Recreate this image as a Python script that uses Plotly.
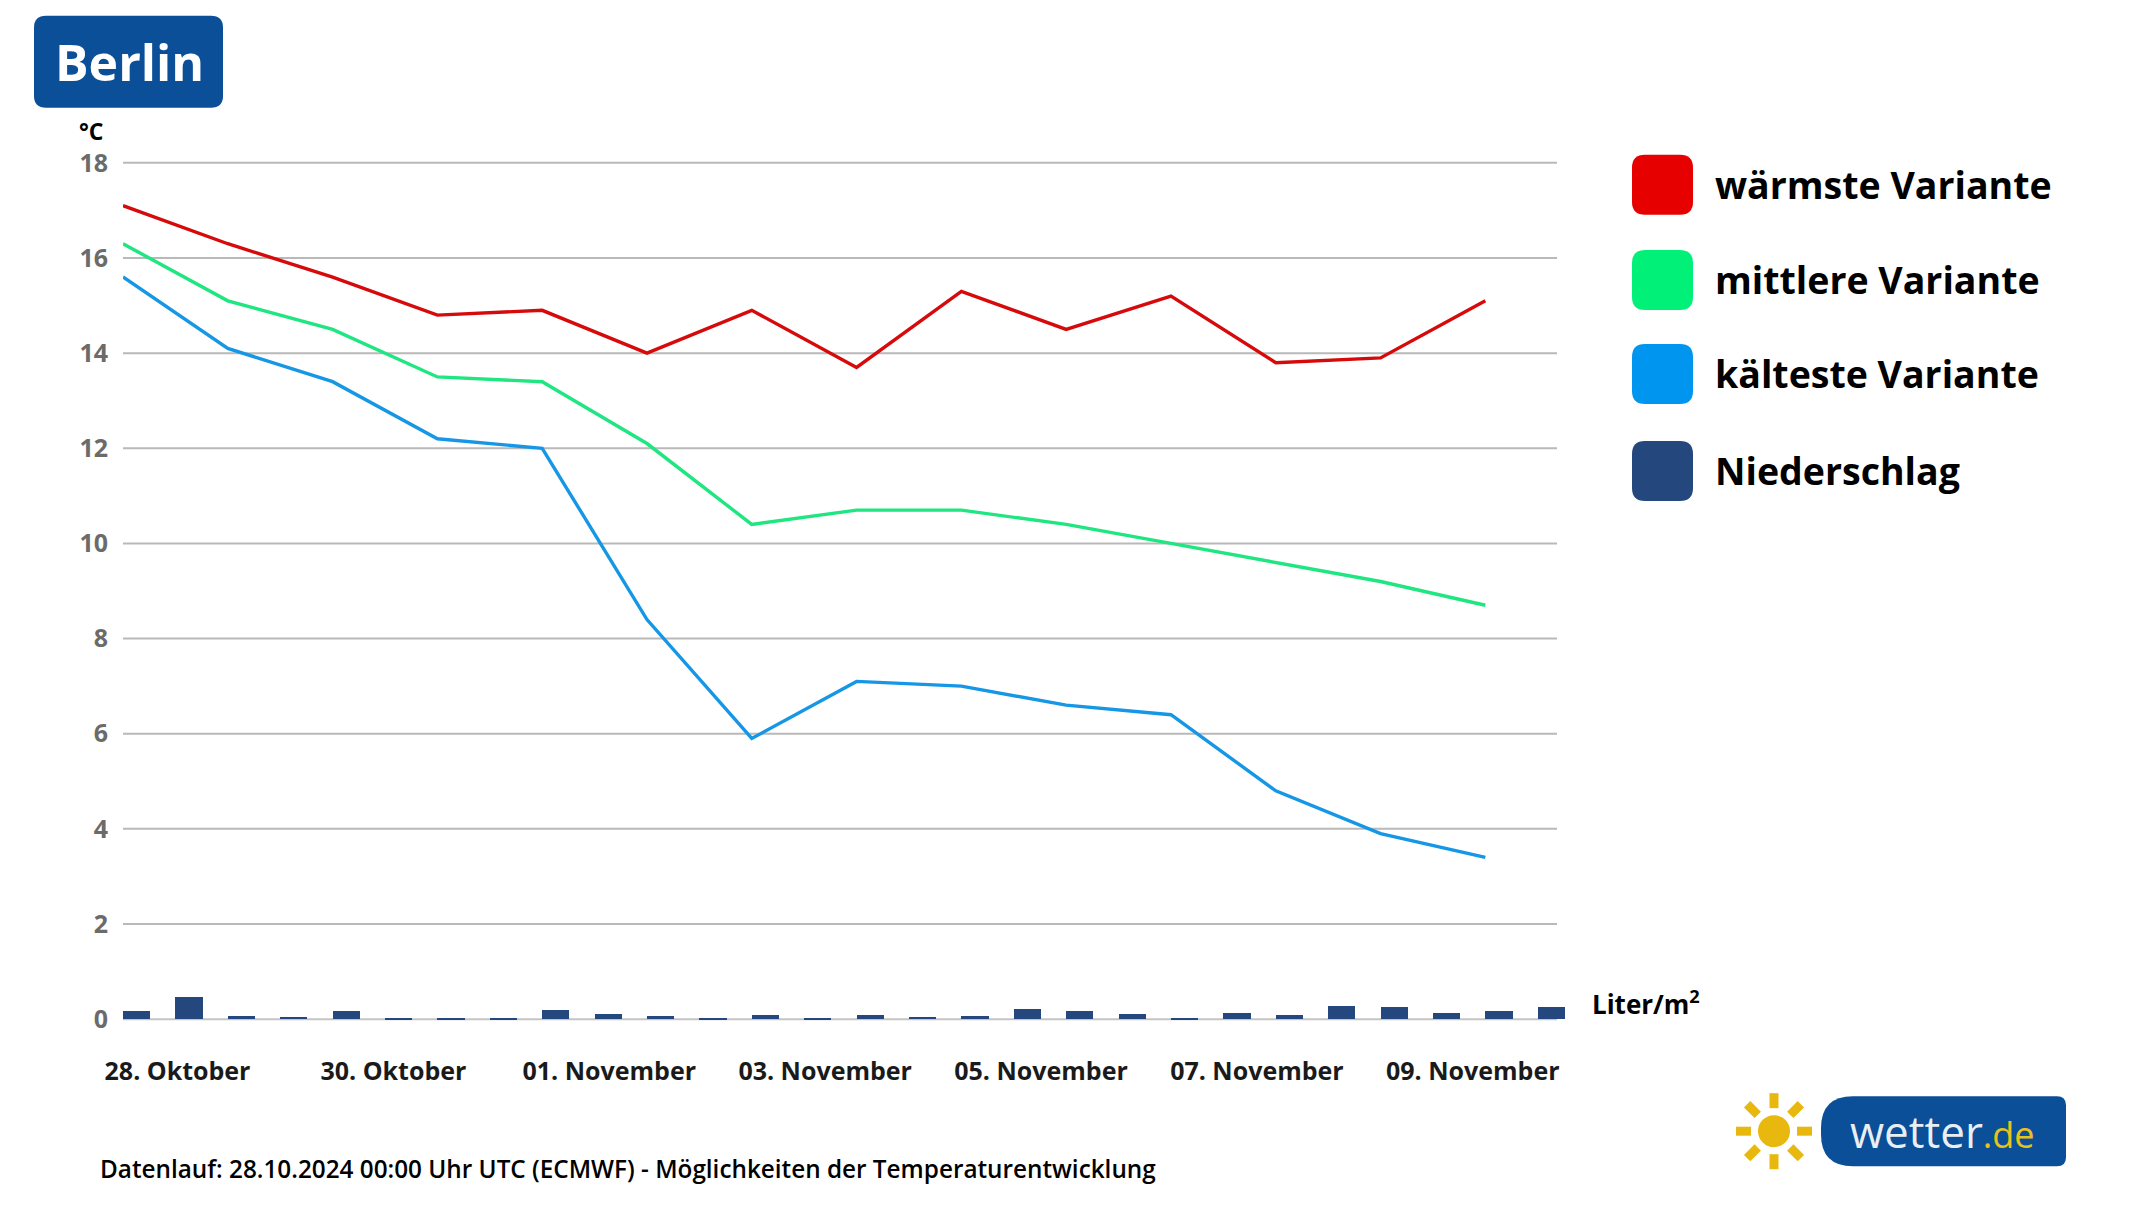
import plotly.graph_objects as go
import numpy as np

# ---------------- data ----------------
days = list(range(14))  # 28.10 ... 10.11, one value per day
warm = [17.1, 16.3, 15.6, 14.8, 14.9, 14.0, 14.9, 13.7, 15.3, 14.5, 15.2, 13.8, 13.9, 15.1]
mid = [16.3, 15.1, 14.5, 13.5, 13.4, 12.1, 10.4, 10.7, 10.7, 10.4, 10.0, 9.6, 9.2, 8.7]
cold = [15.6, 14.1, 13.4, 12.2, 12.0, 8.4, 5.9, 7.1, 7.0, 6.6, 6.4, 4.8, 3.9, 3.4]
precip_steps = [k * 0.5 for k in range(28)]  # 12-hour steps
precip = [0.8, 2.2, 0.3, 0.2, 0.8, 0.05, 0.05, 0.05, 0.9, 0.5, 0.3, 0.05, 0.4, 0.05,
          0.4, 0.2, 0.3, 1.0, 0.8, 0.5, 0.05, 0.6, 0.4, 1.3, 1.2, 0.6, 0.8, 1.2]
date_labels = ["28. Oktober", "30. Oktober", "01. November", "03. November",
               "05. November", "07. November", "09. November"]
y_ticks = [0, 2, 4, 6, 8, 10, 12, 14, 16, 18]
legend_names = ["wärmste Variante", "mittlere Variante", "kälteste Variante", "Niederschlag"]

# ---------------- style / geometry ----------------
OFF = 8                      # page body margin of the browser
W, H = 2149 - OFF, 1209 - OFF
K = (1019 - 163) / 18.0      # pixels per °C
YMIN, YMAX = -0.06, 18.06
ML = 123 - OFF
PLOT_R = 1565 - OFF
MR = W - PLOT_R
MT = (163 - OFF) - (YMAX - 18) * K
PLOT_B = (1019 - OFF) - YMIN * K
MB = H - PLOT_B
PW, PH = PLOT_R - ML, PLOT_B - MT
MM_PX = 10.0                 # pixels per mm of precipitation
XMAX = 13.76
GRID_END = XMAX * (1557 - 123) / (1565 - 123)

FONT = "Open Sans"
RED_L, GREEN_L, BLUE_L, NAVY = "#d60a0a", "#1fe680", "#1597e6", "#24477e"
RED_S, GREEN_S, BLUE_S = "#e60000", "#00f078", "#0096f0"
BRAND = "#0a4f97"
YELLOW = "#e8b80f"


def px(x):
    return (x - OFF - ML) / PW


def py(y):
    return (PLOT_B - (y - OFF)) / PH


def rrect(x0, y0, x1, y1, r, rl=None):
    rl = r if rl is None else rl
    pts = [
        f"M{px(x0 + rl)},{py(y0)}",
        f"L{px(x1 - r)},{py(y0)}",
        f"Q{px(x1)},{py(y0)} {px(x1)},{py(y0 + r)}",
        f"L{px(x1)},{py(y1 - r)}",
        f"Q{px(x1)},{py(y1)} {px(x1 - r)},{py(y1)}",
        f"L{px(x0 + rl)},{py(y1)}",
        f"Q{px(x0)},{py(y1)} {px(x0)},{py(y1 - rl)}",
        f"L{px(x0)},{py(y0 + rl)}",
        f"Q{px(x0)},{py(y0)} {px(x0 + rl)},{py(y0)}",
        "Z",
    ]
    return " ".join(pts)


fig = go.Figure()

fig.add_trace(go.Bar(x=precip_steps, y=precip, width=0.26, offset=0,
                     marker=dict(color=NAVY, line=dict(width=0)),
                     yaxis="y2", name=legend_names[3], showlegend=False))
for vals, col, nm in [(warm, RED_L, legend_names[0]), (mid, GREEN_L, legend_names[1]),
                      (cold, BLUE_L, legend_names[2])]:
    fig.add_trace(go.Scatter(x=days, y=vals, mode="lines", line=dict(color=col, width=3.4),
                             name=nm, showlegend=False))

tick_pos = [0.52 + 2.06 * k for k in range(len(date_labels))]

fig.update_layout(
    width=W, height=H,
    margin=dict(l=ML, r=MR, t=MT, b=MB, pad=0),
    plot_bgcolor="white", paper_bgcolor="white",
    font=dict(family=FONT),
    xaxis=dict(range=[0, XMAX], tickvals=tick_pos, ticktext=date_labels,
               showgrid=False, zeroline=False, showline=False, ticks="",
               tickfont=dict(size=25, color="#1a1a1a", weight=700),
               ticklabelstandoff=32),
    yaxis=dict(range=[YMIN, YMAX], tickvals=y_ticks, showgrid=False,
               zeroline=False, showline=False, ticks="",
               tickfont=dict(size=25, color="#6b6b6b", weight=700),
               ticklabelstandoff=14),
    yaxis2=dict(range=[YMIN * K / MM_PX, YMAX * K / MM_PX], overlaying="y", visible=False),
    bargap=0,
)

shapes = []
annos = []

# horizontal grid lines (ending where the reference grid ends)
for t in y_ticks:
    shapes.append(dict(type="line", xref="x", yref="y", x0=0, x1=GRID_END, y0=t, y1=t,
                       line=dict(color="#c4c4c4" if t == 0 else "#b9b9b9", width=2),
                       layer="below"))

# Title box
shapes.append(dict(type="path", xref="paper", yref="paper", path=rrect(34, 16, 223, 108, 12),
                   fillcolor=BRAND, line=dict(width=0), layer="above"))
annos.append(dict(xref="paper", yref="paper", x=px(129), y=py(62), text="<b>Berlin</b>",
                  showarrow=False, font=dict(size=50, color="white", family=FONT),
                  xanchor="center", yanchor="middle"))

# °C label
annos.append(dict(xref="paper", yref="paper", x=px(91), y=py(131), text="<b>°C</b>",
                  showarrow=False, font=dict(size=23, color="black", family=FONT),
                  xanchor="center", yanchor="middle"))

# Legend
leg_cols = [RED_S, GREEN_S, BLUE_S, NAVY]
leg_y = [185, 280, 374, 471]
for nm, col, cy in zip(legend_names, leg_cols, leg_y):
    shapes.append(dict(type="path", xref="paper", yref="paper",
                       path=rrect(1632, cy - 30, 1693, cy + 30, 13),
                       fillcolor=col, line=dict(width=0)))
    annos.append(dict(xref="paper", yref="paper", x=px(1713), y=py(cy), text=f"<b>{nm}</b>",
                      showarrow=False, font=dict(size=37.5, color="black", family=FONT),
                      xanchor="left", yanchor="middle"))

# Liter/m2
annos.append(dict(xref="paper", yref="paper", x=px(1590), y=py(1003),
                  text="<b>Liter/m<sup>2</sup></b>", showarrow=False,
                  font=dict(size=26, color="black", family=FONT),
                  xanchor="left", yanchor="middle"))

# Footer
annos.append(dict(xref="paper", yref="paper", x=px(98), y=py(1168),
                  text="Datenlauf: 28.10.2024 00:00 Uhr UTC (ECMWF) - Möglichkeiten der Temperaturentwicklung",
                  showarrow=False, font=dict(size=24.3, color="black", family=FONT, weight=600),
                  xanchor="left", yanchor="middle"))

# Logo: sun
scx, scy = 1774, 1131
shapes.append(dict(type="circle", xref="paper", yref="paper",
                   x0=px(scx - 16), x1=px(scx + 16), y0=py(scy + 16), y1=py(scy - 16),
                   fillcolor=YELLOW, line=dict(width=0)))
for k in range(8):
    a = k * np.pi / 4
    ux, uy = np.cos(a), np.sin(a)
    vx, vy = -uy, ux
    r0, r1, hw = 23, 38, 4.5
    pts = [(scx + ux * r0 + vx * hw, scy + uy * r0 + vy * hw),
           (scx + ux * r1 + vx * hw, scy + uy * r1 + vy * hw),
           (scx + ux * r1 - vx * hw, scy + uy * r1 - vy * hw),
           (scx + ux * r0 - vx * hw, scy + uy * r0 - vy * hw)]
    path = "M" + " L".join(f"{px(a_)},{py(b_)}" for a_, b_ in pts) + " Z"
    shapes.append(dict(type="path", xref="paper", yref="paper", path=path,
                       fillcolor=YELLOW, line=dict(width=0)))
# Logo: pill
shapes.append(dict(type="path", xref="paper", yref="paper",
                   path=rrect(1821, 1096, 2066, 1166, 9, rl=32),
                   fillcolor=BRAND, line=dict(width=0)))
annos.append(dict(xref="paper", yref="paper", x=px(1942), y=py(1131),
                  text="<span style='color:#e9eef5'>wetter</span><span style='color:#e8c21a;font-size:36px'>.de</span>",
                  showarrow=False, font=dict(size=44, family=FONT),
                  xanchor="center", yanchor="middle"))

fig.update_layout(shapes=shapes, annotations=annos)
fig.write_html("out.html")
